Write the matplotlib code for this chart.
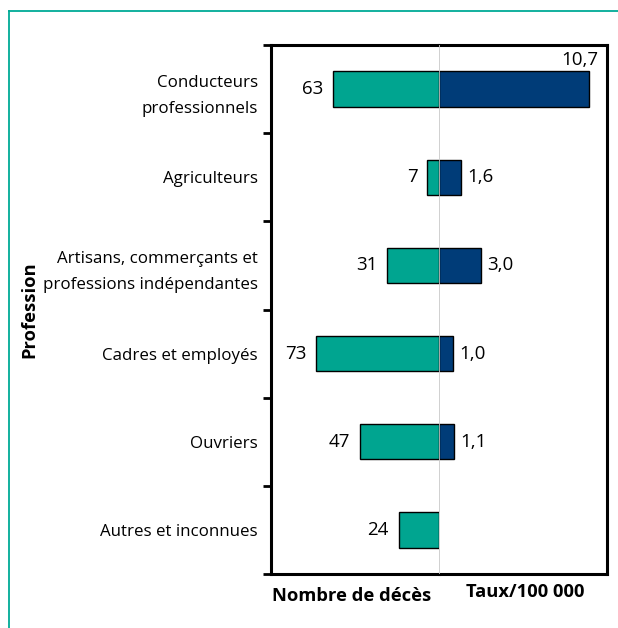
import numpy as np
import matplotlib
matplotlib.use("Agg")
import matplotlib.pyplot as plt
from matplotlib.lines import Line2D

categories = ["Conducteurs\nprofessionnels", "Agriculteurs",
              "Artisans, commerçants et\nprofessions indépendantes",
              "Cadres et employés", "Ouvriers", "Autres et inconnues"]
deaths = [63, 7, 31, 73, 47, 24]
rates = [10.7, 1.6, 3.0, 1.0, 1.1, None]
rate_labels = ["10,7", "1,6", "3,0", "1,0", "1,1", ""]

teal = "#00A590"
navy = "#003C78"
frame_col = "#00AA96"

plt.rcParams['font.family'] = ['Open Sans', 'DejaVu Sans']

fig = plt.figure(figsize=(6.18, 6.28), dpi=100)
W, H = 618, 628
x0, xc, x1 = 271, 439, 607
ytop, ybot = 45, 574
axL = fig.add_axes([x0 / W, 1 - ybot / H, (xc - x0) / W, (ybot - ytop) / H])
axR = fig.add_axes([xc / W, 1 - ybot / H, (x1 - xc) / W, (ybot - ytop) / H], sharey=axL)

y = np.arange(len(categories))
bh = 0.4
fs = 12.2
vfs = 13.5

axL.barh(y, deaths, height=bh, color=teal, edgecolor="black", linewidth=1.0, zorder=2)
axL.set_xlim(100, 0)
r_vals = [r if r is not None else 0 for r in rates]
mask = [r is not None for r in rates]
axR.barh(y[mask], np.array(r_vals)[mask], height=bh, color=navy, edgecolor="black", linewidth=1.0, zorder=2)
axR.set_xlim(0, 12)
axL.set_ylim(len(categories) - 0.5, -0.5)

axR.axvline(0, color="#c8c8c8", linewidth=1.2, zorder=5)

for ax in (axL, axR):
    for s in ax.spines.values():
        s.set_linewidth(2.2)
        s.set_color("black")
    ax.set_xticks([])
axL.spines['right'].set_visible(False)
axR.spines['left'].set_visible(False)

axL.set_yticks(np.arange(-0.5, len(categories)), labels=[""] * (len(categories) + 1))
axL.set_yticks(y, labels=categories, minor=True)
axL.tick_params(axis='y', which='major', length=6, width=2.0, direction='out')
axL.tick_params(axis='y', which='minor', length=0, pad=9.5, labelsize=fs)
for t in axL.get_yticklabels(minor=True):
    t.set_linespacing(1.8)
axR.tick_params(axis='y', which='both', left=False, labelleft=False)

for i, d in enumerate(deaths):
    axL.annotate(str(d), xy=(d, i), xytext=(-7, 0), textcoords='offset points',
                 ha='right', va='center', fontsize=vfs)
for i, r in enumerate(rates):
    if r is None:
        continue
    if r > 9:
        axR.annotate(rate_labels[i], xy=(r, i - bh / 2), xytext=(7, 2), textcoords='offset points',
                     ha='right', va='bottom', fontsize=vfs)
    else:
        axR.annotate(rate_labels[i], xy=(r, i), xytext=(4.5, 0), textcoords='offset points',
                     ha='left', va='center', fontsize=vfs)

fig.text(29 / W, 1 - 310 / H, "Profession", rotation=90, ha='center', va='center',
         fontsize=13.2, fontweight='bold')
fig.text(352 / W, 1 - 596 / H, "Nombre de décès", ha='center', va='center',
         fontsize=13.2, fontweight='bold')
fig.text(525 / W, 1 - 592 / H, "Taux/100 000", ha='center', va='center',
         fontsize=13.2, fontweight='bold')

fig.add_artist(Line2D([8.5 / W, 1], [1 - 11 / H, 1 - 11 / H], color=frame_col, linewidth=1.3,
                      transform=fig.transFigure))
fig.add_artist(Line2D([8.5 / W, 8.5 / W], [0, 1 - 11 / H], color=frame_col, linewidth=1.3,
                      transform=fig.transFigure))

fig.savefig("out.png", dpi=100)
